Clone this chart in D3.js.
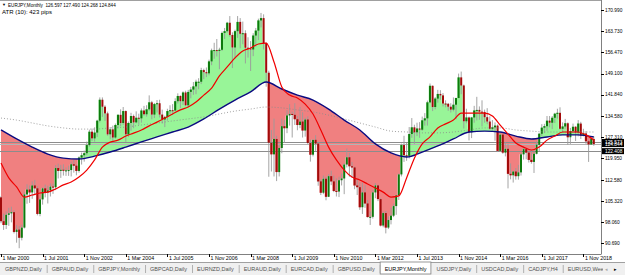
<!DOCTYPE html>
<html>
<head>
<meta charset="utf-8">
<script src="https://cdn.jsdelivr.net/npm/d3@7"></script>
<style>
body{margin:0;background:#fff;}
svg{display:block;font-family:"Liberation Sans",Arial,sans-serif;}
</style>
</head>
<body>
<div id="chart"></div>
<script>
// EURJPY monthly bars, first bar = Jan 2000, last = Mar 2019
var firstBar = "2000-01";
var opens = [
 103.0,104.4,106.5,98.3,97.0,100.5,101.0,101.4,94.6,95.4,92.6,96.1,
 107.5,109.2,108.2,110.6,109.6,100.8,105.8,109.6,108.2,108.9,110.2,110.0,
 116.6,115.6,116.0,115.7,115.8,115.9,117.9,117.4,115.6,120.2,121.0,121.7,
 124.5,129.1,126.8,128.8,132.9,140.1,137.7,135.4,128.2,129.9,127.1,131.4,
 134.9,132.1,136.2,128.2,132.1,134.5,132.3,133.9,133.7,136.4,135.1,136.8,
 139.2,135.0,138.6,138.9,135.0,133.3,134.2,136.2,136.5,136.4,139.6,141.4,
 139.6,142.6,138.2,142.8,143.6,144.7,146.3,146.3,150.3,149.6,149.2,153.3,
 157.1,157.2,156.9,157.3,163.1,163.7,166.6,162.4,158.1,163.7,166.9,162.8,
 163.0,158.0,157.8,157.4,162.2,163.9,167.4,168.2,159.6,149.4,125.3,121.3,
 126.6,115.2,123.5,131.0,130.3,134.7,135.2,134.9,133.4,131.4,132.6,129.5,
 133.3,125.2,121.2,126.3,125.0,112.0,108.1,112.9,106.7,113.8,112.0,108.7,
 108.5,112.4,113.0,117.8,120.3,117.2,116.8,110.6,110.0,103.1,108.2,104.4,
 99.7,99.8,108.2,110.6,105.9,96.8,101.1,96.1,98.7,100.2,103.5,107.2,
 114.4,124.5,121.0,120.8,128.3,130.6,128.9,130.2,129.8,133.0,133.7,139.2,
 144.9,137.6,140.5,142.1,141.6,138.8,138.7,137.7,136.7,138.4,140.7,147.8,
 145.0,132.7,134.0,128.9,134.0,136.4,136.6,136.0,135.9,134.1,132.6,130.1,
 130.6,131.2,122.5,128.1,121.9,123.2,114.6,114.1,115.4,113.8,115.1,121.3,
 123.1,121.9,119.4,118.7,121.5,124.6,128.4,130.5,131.0,132.9,132.2,133.9,
 135.3,135.6,130.1,130.9,132.0,127.2,129.3,130.8,128.8,131.9,127.8,128.5,
 125.8,124.7,126.597
];
var highs = [
 106.2,107.6,106.9,100.9,101.6,102.9,103.3,102.0,97.0,96.6,97.1,108.3,
 111.0,110.6,112.0,112.5,110.3,106.4,109.9,110.9,110.5,111.3,111.2,117.6,
 118.1,117.7,117.9,116.8,117.4,118.8,119.4,117.9,120.6,121.9,122.6,125.7,
 129.8,130.2,130.6,133.2,140.9,140.9,138.2,136.0,130.7,131.2,131.9,135.1,
 136.8,137.6,136.4,132.6,135.6,135.0,136.1,135.3,137.1,138.0,138.2,141.6,
 139.7,139.0,140.0,140.1,136.7,134.6,137.0,138.2,138.6,140.6,142.3,141.6,
 143.0,143.2,143.5,144.5,146.2,147.0,147.5,151.1,150.8,151.2,153.9,157.7,
 159.7,161.0,158.0,163.6,164.8,166.9,168.9,163.3,164.2,168.9,168.2,167.0,
 164.0,161.6,160.3,163.0,164.8,168.0,169.97,169.5,159.9,150.1,129.7,133.6,
 127.7,124.8,133.6,133.1,136.5,138.6,136.0,138.9,134.5,137.6,135.8,133.9,
 134.4,126.4,126.4,127.9,125.5,112.6,114.0,113.5,114.5,115.7,114.0,113.0,
 113.6,114.7,118.2,123.3,121.8,118.7,117.1,113.0,111.6,111.6,110.7,105.6,
 101.6,109.0,111.4,110.9,106.2,101.6,101.8,99.9,102.9,104.3,107.3,114.7,
 125.0,127.7,125.3,130.7,133.8,131.5,132.2,132.4,134.3,135.5,139.8,145.7,
 145.0,141.0,143.5,143.4,142.4,139.9,139.0,138.9,140.9,140.8,149.1,149.8,
 145.3,137.0,134.3,134.2,138.0,141.1,137.8,139.9,136.7,137.2,134.4,133.1,
 132.3,131.6,128.5,128.2,125.5,124.9,118.2,115.6,116.6,117.7,121.8,124.1,
 123.6,122.0,122.9,122.2,125.8,128.7,131.7,131.8,134.5,134.5,134.5,135.6,
 137.0,137.5,132.3,133.5,132.3,130.4,131.9,131.0,133.1,132.5,130.1,129.3,
 126.2,126.8,127.490
];
var lows = [
 101.3,102.6,97.6,95.3,95.6,96.7,97.9,94.1,90.9,89.0,91.7,95.8,
 104.3,104.6,106.0,107.3,100.3,100.0,104.0,106.5,104.4,106.8,107.7,109.0,
 113.0,113.2,114.0,113.9,113.9,113.7,115.0,114.1,115.0,117.8,118.8,121.0,
 124.0,125.9,125.7,127.3,132.3,134.2,132.8,127.7,126.5,126.0,126.7,130.2,
 131.0,131.5,125.6,127.3,129.4,130.3,132.0,131.5,132.2,134.6,134.3,136.3,
 133.4,133.8,135.7,134.0,131.9,130.7,132.9,135.0,134.9,136.1,138.8,137.2,
 138.3,137.9,137.6,140.6,141.8,142.0,143.7,145.5,147.2,147.9,148.5,152.0,
 154.2,155.0,150.6,156.9,161.0,163.2,161.8,151.0,154.2,161.4,157.8,159.2,
 152.6,154.6,150.0,155.1,158.4,160.6,165.0,157.4,144.6,113.6,115.4,113.7,
 112.1,113.7,121.7,125.3,128.6,131.2,127.1,131.4,129.6,130.3,127.1,127.4,
 124.9,118.8,120.6,122.4,110.5,107.3,107.6,105.5,106.6,110.7,108.3,106.8,
 106.6,110.6,107.6,116.8,113.6,113.3,109.3,107.3,102.2,100.8,102.9,99.6,
 97.0,99.2,106.2,105.2,96.5,96.2,94.1,95.6,97.2,99.7,100.5,105.6,
 113.7,118.7,119.1,119.9,127.0,124.9,127.6,127.0,129.4,131.2,131.2,138.9,
 136.2,136.8,139.1,140.1,137.8,137.5,136.3,135.7,136.1,133.4,140.6,142.0,
 130.2,132.0,126.1,126.9,132.2,133.0,133.2,130.9,132.2,131.7,129.8,129.5,
 126.0,122.1,122.2,121.5,120.6,109.6,112.7,111.6,112.6,112.6,114.0,119.5,
 119.6,118.5,118.1,114.9,121.3,122.4,127.6,128.6,129.4,130.6,130.0,132.1,
 133.6,129.8,128.9,130.1,124.6,124.9,128.6,125.9,127.5,126.6,127.5,124.9,
 118.7,124.6,124.268
];
var closes = [
 104.4,106.5,98.3,97.0,100.5,101.0,101.4,94.6,95.4,92.6,96.1,107.5,
 109.2,108.2,110.6,109.6,100.8,105.8,109.6,108.2,108.9,110.2,110.0,116.6,
 115.6,116.0,115.7,115.8,115.9,117.9,117.4,115.6,120.2,121.0,121.7,124.5,
 129.1,126.8,128.8,132.9,140.1,137.7,135.4,128.2,129.9,127.1,131.4,134.9,
 132.1,136.2,128.2,132.1,134.5,132.3,133.9,133.7,136.4,135.1,136.8,139.2,
 135.0,138.6,138.9,135.0,133.3,134.2,136.2,136.5,136.4,139.6,141.4,139.6,
 142.6,138.2,142.8,143.6,144.7,146.3,146.3,150.3,149.6,149.2,153.3,157.1,
 157.2,156.9,157.3,163.1,163.7,166.6,162.4,158.1,163.7,166.9,162.8,163.0,
 158.0,157.8,157.4,162.2,163.9,167.4,168.2,159.6,149.4,125.3,121.3,126.6,
 115.2,123.5,131.0,130.3,134.7,135.2,134.9,133.4,131.4,132.6,129.5,133.3,
 125.2,121.2,126.3,125.0,112.0,108.1,112.9,106.7,113.8,112.0,108.7,108.5,
 112.4,113.0,117.8,120.3,117.2,116.8,110.6,110.0,103.1,108.2,104.4,99.7,
 99.8,108.2,110.6,105.9,96.8,101.1,96.1,98.7,100.2,103.5,107.2,114.4,
 124.5,121.0,120.8,128.3,130.6,128.9,130.2,129.8,133.0,133.7,139.2,144.9,
 137.6,140.5,142.1,141.6,138.8,138.7,137.7,136.7,138.4,140.7,147.8,145.0,
 132.7,134.0,128.9,134.0,136.4,136.6,136.0,135.9,134.1,132.6,130.1,130.6,
 131.2,122.5,128.1,121.9,123.2,114.6,114.1,115.4,113.8,115.1,121.3,123.1,
 121.9,119.4,118.7,121.5,124.6,128.4,130.5,131.0,132.9,132.2,133.9,135.3,
 135.6,130.1,130.9,132.0,127.2,129.3,130.8,128.8,131.9,127.8,128.5,125.8,
 124.7,126.6,124.844
];

// fast average (red), read every 3 months from Mar 2000
var redStart = "2000-03", redStep = 3;
var redVals = [118.3,113.2,110.1,106.6,107.3,108.0,108.3,109.4,110.8,111.8,
 113.5,115.9,119.4,123.8,125.5,126.2,127.6,128.6,129.7,131.1,
 132.4,133.8,135.2,136.6,137.6,139.3,141.7,144.1,148.3,151.4,
 154.5,156.9,157.9,159.3,159.6,153.1,144.5,141.7,140.7,138.6,
 135.2,129.7,123.8,119.4,115.9,113.5,112.5,111.1,109.7,108.3,
 106.6,107.0,113.2,120.0,124.9,127.3,130.4,131.8,133.1,135.5,
 135.5,135.5,135.5,134.5,131.4,128.3,125.2,123.8,122.8,123.8,
 126.2,127.6,129.0,129.0,129.0,128.0,126.2];
// slow average (navy) and long dotted average, read every 6 months from Mar 2000
var slowStart = "2000-03", slowStep = 6;
var blueVals = [129.7,126.6,123.8,121.4,120.0,119.7,120.7,122.1,123.8,125.6,
 127.3,129.0,130.7,133.5,136.9,140.0,142.8,146.2,143.8,141.7,
 140.0,136.9,133.1,129.7,124.9,121.8,120.4,122.1,124.2,126.6,
 129.0,129.3,129.0,127.6,126.6,127.3,128.0,128.0,127.3];
var dotVals = [133.8,133.1,132.1,131.1,130.4,130.0,130.0,130.4,130.7,131.4,
 132.1,132.8,133.5,134.2,135.2,136.2,136.9,137.6,137.3,136.6,
 135.9,134.8,133.5,132.1,130.7,129.3,129.0,128.7,128.7,129.0,
 129.7,130.4,130.4,129.7,129.3,129.0,129.0,129.0,129.0];

var priceTicks = [170.990,163.730,156.470,149.100,141.840,134.580,127.310,119.950,112.580,105.320,98.060,90.690];
var dateLabels = ["1 Mar 2000","1 Jul 2001","1 Nov 2002","1 Mar 2004","1 Jul 2005","1 Nov 2006","1 Mar 2008",
 "1 Jul 2009","1 Nov 2010","1 Mar 2012","1 Jul 2013","1 Nov 2014","1 Mar 2016","1 Jul 2017","1 Nov 2018"];
var levels = [125.573, 124.844, 122.408];
var header = "EURJPY,Monthly  126.597 127.490 124.268 124.844";
var atrText = "ATR (10): 423 pips";
var tabs = ["GBPNZD,Daily","GBPAUD,Daily","GBPJPY,Monthly","GBPCAD,Daily","EURNZD,Daily","EURAUD,Daily",
 "EURCAD,Daily","GBPUSD,Daily","EURJPY,Monthly","USDJPY,Daily","USDCAD,Daily","CADJPY,H4","EURUSD,Weekly"];
var activeTab = "EURJPY,Monthly";

function monthIdx(s){
    var p = s.split("-");
    return (+p[0]-2000)*12 + (+p[1]-1);
}
var base = monthIdx(firstBar);
var bars = closes.map(function(c,i){
    return {i:base+i, o:opens[i], h:highs[i], l:lows[i], c:c};
});
function sampled(vals,start,step){
    var s = monthIdx(start);
    return vals.map(function(v,k){ return {i:s+k*step, v:v}; });
}
var redPts = sampled(redVals,redStart,redStep);
var bluePts = sampled(blueVals,slowStart,slowStep);
var dotPts = sampled(dotVals,slowStart,slowStep);

var W = 625, H = 275;
var plotR = 601, plotT = 1, plotB = 254;

var x = d3.scaleLinear().domain([2,230]).range([1,593.8]);
var y = d3.scaleLinear().domain([90.69,170.99]).range([243.3,10]);

var svg = d3.select("#chart").append("svg")
    .attr("width",W).attr("height",H);
var defs = svg.append("defs");
defs.append("clipPath").attr("id","plotClip")
    .append("rect").attr("x",0).attr("y",plotT).attr("width",plotR).attr("height",plotB-plotT);
defs.append("clipPath").attr("id","tabClip")
    .append("rect").attr("x",0).attr("y",0).attr("width",603).attr("height",H);

var blueCurve = d3.curveMonotoneX;
defs.append("clipPath").attr("id","aboveBlue")
    .append("path")
    .attr("d", d3.area().curve(blueCurve)
        .x(function(d){return x(d.i);})
        .y0(plotT).y1(function(d){return y(d.v);})(bluePts));
defs.append("clipPath").attr("id","belowBlue")
    .append("path")
    .attr("d", d3.area().curve(blueCurve)
        .x(function(d){return x(d.i);})
        .y0(function(d){return y(d.v);}).y1(plotB)(bluePts));

svg.append("rect").attr("width",W).attr("height",H).attr("fill","#fff");

var g = svg.append("g").attr("clip-path","url(#plotClip)");

// histogram between slow average and close
g.append("path")
    .attr("clip-path","url(#aboveBlue)")
    .attr("fill","#98f598")
    .attr("d", d3.area().curve(d3.curveStep)
        .x(function(d){return x(d.i);})
        .y0(function(d){return y(d.c);}).y1(plotB)(bars));
g.append("path")
    .attr("clip-path","url(#belowBlue)")
    .attr("fill","#f08080")
    .attr("d", d3.area().curve(d3.curveStep)
        .x(function(d){return x(d.i);})
        .y0(plotT).y1(function(d){return y(d.c);})(bars));

// horizontal levels
g.selectAll("line.level")
    .data(levels)
    .enter()
    .append("line")
    .attr("class","level")
    .attr("x1",0).attr("x2",plotR)
    .attr("y1",function(d){return Math.round(y(d))+0.5;})
    .attr("y2",function(d){return Math.round(y(d))+0.5;})
    .attr("stroke",function(d,i){return i==1 ? "#b4b4b4" : "#8c8c8c";})
    .attr("stroke-width",1);

// candles
var cg = g.append("g");
cg.selectAll("line.wick")
    .data(bars)
    .enter()
    .append("line")
    .attr("x1",function(d){return x(d.i);})
    .attr("x2",function(d){return x(d.i);})
    .attr("y1",function(d){return y(d.h);})
    .attr("y2",function(d){return y(d.l);})
    .attr("stroke","#9a9a9a")
    .attr("stroke-width",0.9);
cg.selectAll("rect.body")
    .data(bars)
    .enter()
    .append("rect")
    .attr("x",function(d){return x(d.i)-1;})
    .attr("width",2)
    .attr("y",function(d){return y(Math.max(d.o,d.c));})
    .attr("height",function(d){return Math.max(1,Math.abs(y(d.o)-y(d.c)));})
    .attr("fill",function(d){return d.c>=d.o ? "#0d7a0d" : "#a30a0a";});

// averages
g.append("path")
    .attr("fill","none")
    .attr("stroke","#8a8a8a")
    .attr("stroke-width",0.8)
    .attr("stroke-dasharray","1,2")
    .attr("d", d3.line().curve(d3.curveMonotoneX)
        .x(function(d){return x(d.i);}).y(function(d){return y(d.v);})(dotPts));
g.append("path")
    .attr("fill","none")
    .attr("stroke","#0a0a80")
    .attr("stroke-width",1.4)
    .attr("d", d3.line().curve(blueCurve)
        .x(function(d){return x(d.i);}).y(function(d){return y(d.v);})(bluePts));
g.append("path")
    .attr("fill","none")
    .attr("stroke","#f00000")
    .attr("stroke-width",1.2)
    .attr("d", d3.line().curve(d3.curveMonotoneX)
        .x(function(d){return x(d.i);}).y(function(d){return y(d.v);})(redPts));

// frame
svg.append("line").attr("x1",0).attr("x2",plotR+0.5).attr("y1",0.5).attr("y2",0.5).attr("stroke","#a0a0a0");
svg.append("line").attr("x1",plotR+0.5).attr("x2",plotR+0.5).attr("y1",0).attr("y2",plotB).attr("stroke","#808080");
svg.append("line").attr("x1",0).attr("x2",plotR+0.5).attr("y1",plotB+0.5).attr("y2",plotB+0.5).attr("stroke","#808080");

// price axis
var axR = svg.append("g").attr("font-size","4.8px").attr("fill","#000");
axR.selectAll("line")
    .data(priceTicks)
    .enter()
    .append("line")
    .attr("x1",plotR).attr("x2",plotR+3)
    .attr("y1",function(d){return Math.round(y(d))+0.5;})
    .attr("y2",function(d){return Math.round(y(d))+0.5;})
    .attr("stroke","#000");
axR.selectAll("text")
    .data(priceTicks)
    .enter()
    .append("text")
    .attr("x",plotR+4)
    .attr("y",function(d){return y(d)+1.8;})
    .text(function(d){return d3.format(".3f")(d);});

var lv = svg.append("g").attr("font-size","4.8px");
lv.selectAll("rect")
    .data(levels)
    .enter()
    .append("rect")
    .attr("x",plotR+1).attr("width",W-plotR-2)
    .attr("y",function(d){return y(d)-3;})
    .attr("height",6)
    .attr("fill","#000");
lv.selectAll("text")
    .data(levels)
    .enter()
    .append("text")
    .attr("x",plotR+4)
    .attr("y",function(d){return y(d)+1.8;})
    .attr("fill","#fff")
    .text(function(d){return d3.format(".3f")(d);});

// date axis
var parseD = d3.timeParse("%d %b %Y");
var axB = svg.append("g").attr("font-size","5.3px").attr("fill","#000");
var dateIdx = dateLabels.map(function(s){
    var t = parseD(s);
    return {s:s, i:(t.getFullYear()-2000)*12 + t.getMonth()};
});
axB.selectAll("line")
    .data(dateIdx)
    .enter()
    .append("line")
    .attr("x1",function(d){return Math.round(x(d.i))+0.5;})
    .attr("x2",function(d){return Math.round(x(d.i))+0.5;})
    .attr("y1",plotB).attr("y2",plotB+3)
    .attr("stroke","#000");
axB.selectAll("text")
    .data(dateIdx)
    .enter()
    .append("text")
    .attr("x",function(d){return x(d.i)+1.5;})
    .attr("y",plotB+6)
    .text(function(d){return d.s;});

// header
svg.append("text").attr("x",2).attr("y",6.3).attr("font-size","4px").text("\u25BC");
svg.append("text").attr("x",8).attr("y",6.5).attr("font-size","4.6px").attr("xml:space","preserve").text(header);
svg.append("text").attr("x",2).attr("y",13.5).attr("font-size","6px").text(atrText);

// tab strip
var tabY = 262;
svg.append("rect").attr("x",0).attr("y",tabY).attr("width",W).attr("height",H-tabY).attr("fill","#f0f0f0");
svg.append("line").attr("x1",0).attr("x2",W).attr("y1",tabY+0.5).attr("y2",tabY+0.5).attr("stroke","#a0a0a0");
var tg = svg.append("g").attr("font-size","5.5px").attr("clip-path","url(#tabClip)");
var cx = 0;
tabs.forEach(function(name){
    var t = tg.append("text").attr("x",cx+5).attr("y",270.5)
        .attr("fill", name==activeTab ? "#000" : "#505050").text(name);
    var w = t.node().getComputedTextLength();
    if(name==activeTab){
        tg.insert("rect","text").attr("x",cx+0.5).attr("y",tabY).attr("width",w+9).attr("height",H-tabY-1)
            .attr("fill","#fff").attr("stroke","#808080").attr("stroke-width",0.8);
    } else {
        tg.append("line").attr("x1",cx+w+10.5).attr("x2",cx+w+10.5).attr("y1",tabY+3).attr("y2",H-2)
            .attr("stroke","#b0b0b0");
    }
    cx += w+10;
});
svg.append("text").attr("x",605).attr("y",270.5).attr("font-size","5px").attr("fill","#aaa").text("\u25C2");
svg.append("text").attr("x",614).attr("y",270.5).attr("font-size","5px").attr("fill","#000").text("\u25B8");
</script>
</body>
</html>
